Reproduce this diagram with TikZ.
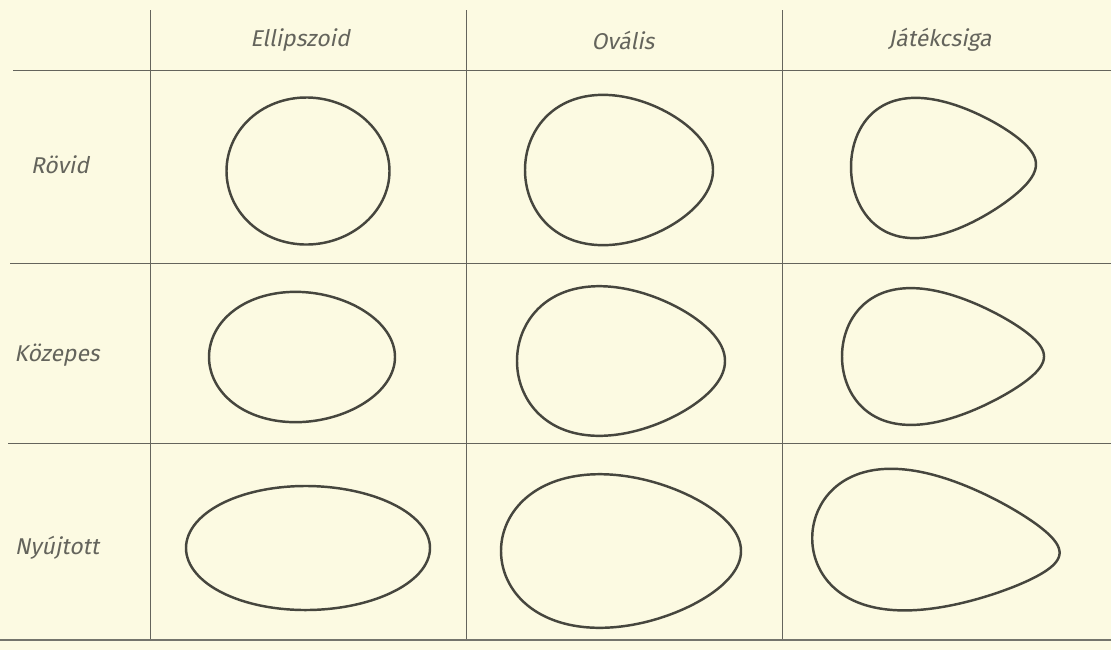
\documentclass[tikz,border=0pt]{standalone}
\usepackage{fontspec}
\usepackage{tikz}
\usetikzlibrary{positioning}
\newfontfamily\letterfont{Fira Sans}[FakeSlant=0.2]
\definecolor{paper}{RGB}{252,250,226}
\definecolor{ink}{RGB}{70,70,62}
\definecolor{rule}{RGB}{100,100,92}

\tikzset{
  gridline/.style={draw=rule, line width=0.55pt},
  eggline/.style={draw=ink, line width=1.4pt},
  hdr/.style={font=\letterfont\fontsize{13}{15}\selectfont, text=rule, inner sep=1pt},
}

\begin{document}
\begin{tikzpicture}[x=0.02cm, y=-0.02cm]
  % paper
  \fill[paper] (0,0) rectangle (1111,650);
  \useasboundingbox (0,0) rectangle (1111,650);

  % grid
  \foreach \gx in {150,466,782}{
    \draw[gridline] (\gx,10) -- (\gx,640);
  }
  \draw[gridline] (13,70) -- (1111,70);
  \draw[gridline] (10,263) -- (1111,263);
  \draw[gridline] (8,443) -- (1111,443);
  \draw[draw=rule!90, line width=1.5pt] (0,640) -- (1111,640);

  % column heads
  \node[hdr] (ellip) at (300,40) {Ellipszoid};
  \node[hdr] (oval)  at (623,40) {Ovális};
  \node[hdr] (csiga) at (940,40) {Játékcsiga};

  % row heads
  \node[hdr] (rovid)  at (60,165) {Rövid};
  \node[hdr] (kozep)  at (57,355) {Közepes};
  \node[hdr] (nyujt)  at (57,548) {Nyújtott};

  % egg outlines: centre x/y, half length, half height, taper, tilt
  \foreach \cx/\cy/\a/\b/\k/\r in {
      308/171/81.5/73.5/0.02/0, 619/170/94/74/0.18/0,    943.5/167/92.5/66/0.38/2,
      302/357/93/65/0.07/0,     621/361/104/73/0.23/0,   943/356.5/101/64/0.40/0,
      308/548/122/62/0.02/0,    621/551/120/75.5/0.19/0, 936/543/124/66/0.40/-5}{
    \draw[eggline, rotate around={\r:(\cx,\cy)}]
      plot[domain=0:357, samples=120, smooth cycle, variable=\t]
      ({\cx + \a*cos(\t)}, {\cy + \b*sin(\t)*(1 - \k*cos(\t))});
  }
\end{tikzpicture}
\end{document}
